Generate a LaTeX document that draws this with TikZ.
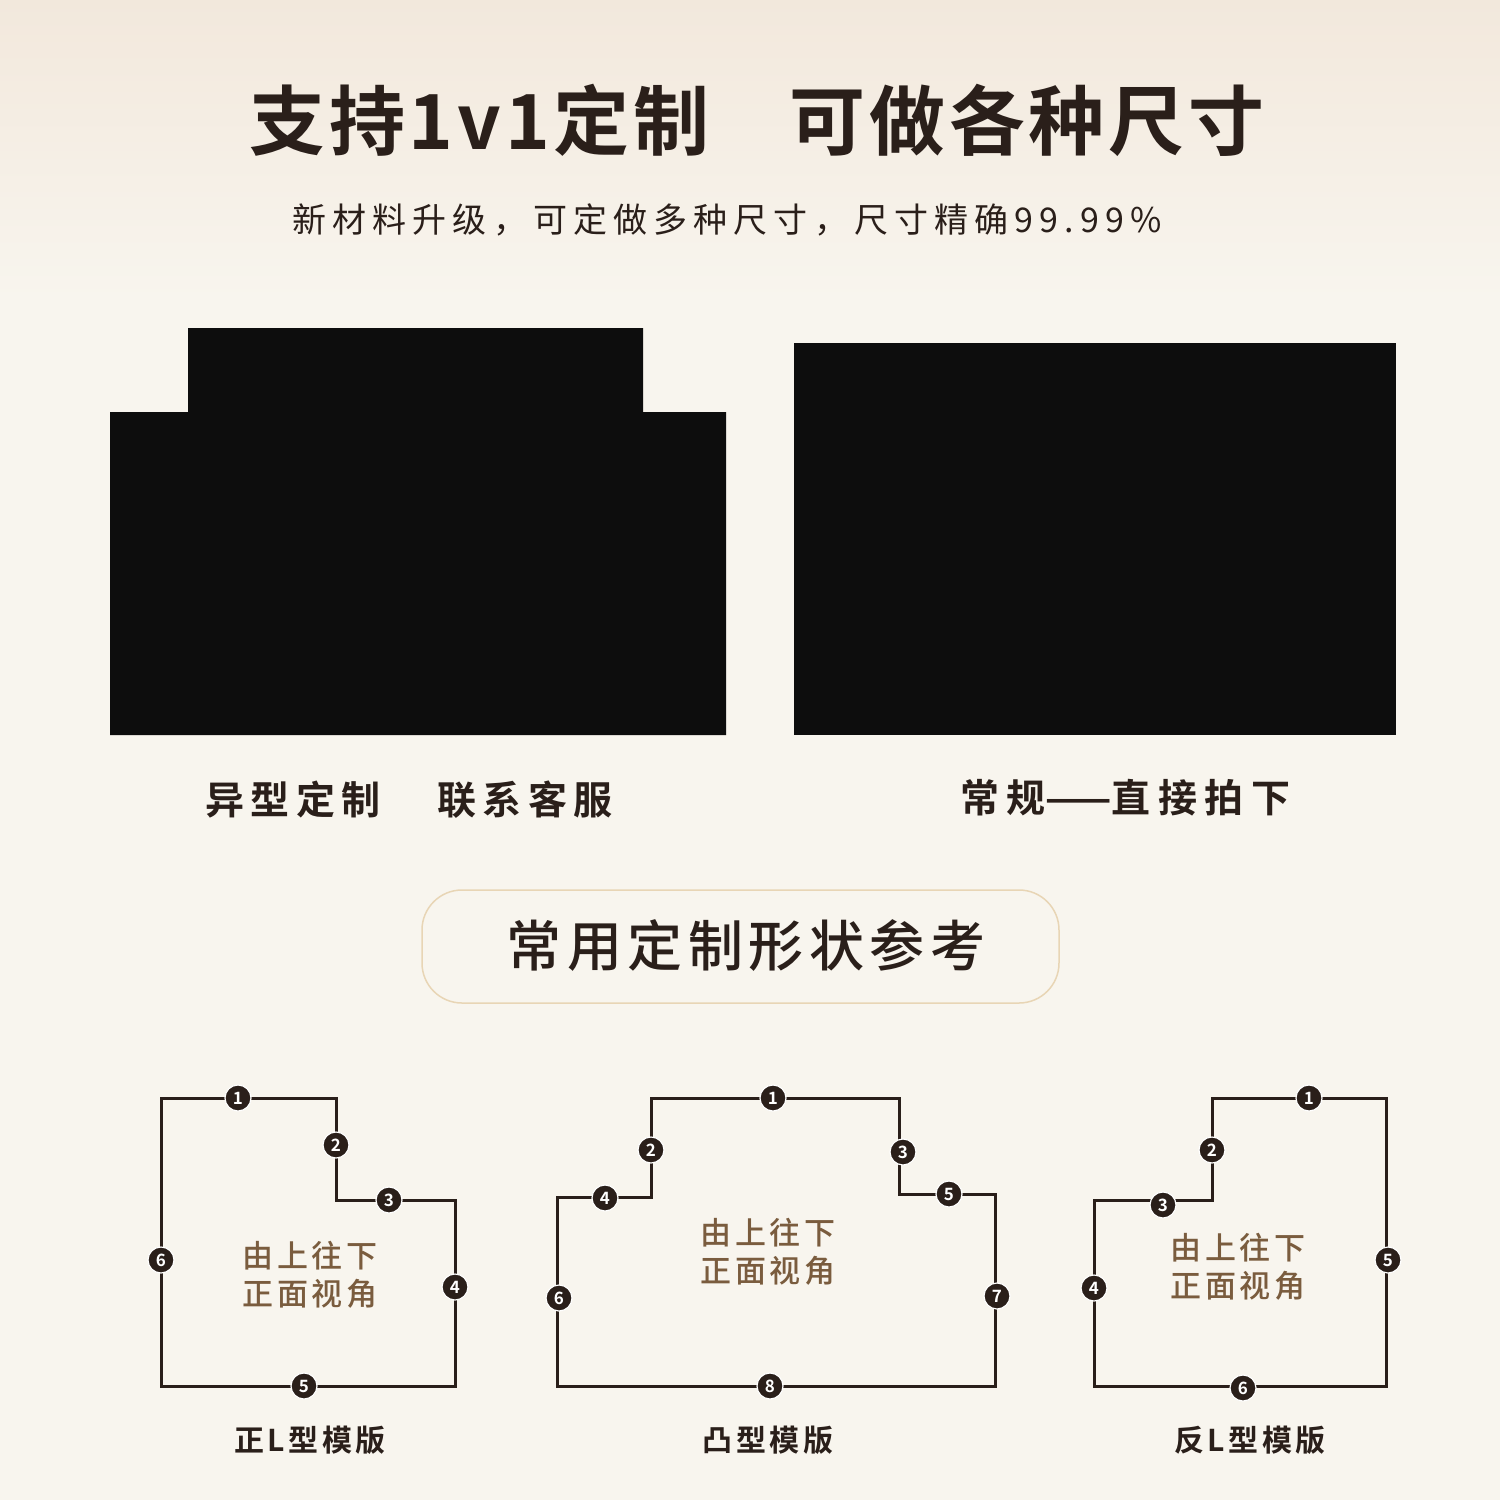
\documentclass[tikz,border=0pt]{standalone}
\usepackage{fontspec}
\newfontfamily\cjksub[LetterSpace=18]{Noto Sans CJK SC}
\newfontfamily\cjktitle[LetterSpace=5]{Noto Sans CJK SC Bold}
\newfontfamily\cjklab[LetterSpace=16]{Noto Sans CJK SC Bold}
\newfontfamily\cjklabb[LetterSpace=19]{Noto Sans CJK SC Bold}
\newfontfamily\cjkhd[LetterSpace=10]{Noto Sans CJK SC Medium}
\newfontfamily\cjkmid[LetterSpace=11]{Noto Sans CJK SC Medium}
\newfontfamily\cjkbot[LetterSpace=12]{Noto Sans CJK SC Bold}
\newfontfamily\cjkb{Noto Sans CJK SC Bold}
\definecolor{bgtop}{HTML}{F2E8DC}
\definecolor{bgbot}{HTML}{F8F5EE}
\definecolor{ink}{HTML}{2A1F1A}
\definecolor{brownt}{HTML}{7A5C3E}
\definecolor{boxb}{HTML}{E8D5B5}
\tikzset{
 outl/.style={draw=ink,line width=3pt},
 mk/.style={circle,fill=ink,draw=white,line width=1.2pt,inner sep=0pt,minimum size=26pt,text=white,font=\cjkb\fontsize{17}{17}\selectfont},
 mid/.style={text=brownt,font=\cjkmid\fontsize{31}{38}\selectfont,align=center},
 lab/.style={text=ink,font=\cjkbot\fontsize{30}{30}\selectfont}
}
\begin{document}
\begin{tikzpicture}[x=1pt,y=-1pt]
\useasboundingbox (0,0) rectangle (1500,1500);
\shade[top color=bgtop,bottom color=bgbot] (0,0) rectangle (1500,300);
\fill[bgbot] (0,299) rectangle (1500,1500);
\node (title) at (757,120) {\cjktitle\fontsize{76}{76}\selectfont\color{ink}支持1v1定制\hspace{80pt}可做各种尺寸};
\node (sub) at (727,220) {\cjksub\fontsize{34}{34}\selectfont\color{ink}新材料升级，可定做多种尺寸，尺寸精确99.99\%};
\fill[black!95] (110,412) -- (188,412) -- (188,328) -- (643,328) -- (643,412) -- (726,412) -- (726,735) -- (110,735) -- cycle;
\fill[black!95] (794,343) rectangle (1396,735);
\node[lab,font=\cjklab\fontsize{39}{39}\selectfont] (l1) at (293,800) {异型定制};
\node[lab,font=\cjklab\fontsize{39}{39}\selectfont] (l2) at (525,800) {联系客服};
\node[lab,font=\cjklabb\fontsize{39}{39}\selectfont] (l3) at (1125,798) {常规{\cjkb\fontsize{39}{39}\selectfont——}直接拍下};
\draw[boxb,line width=1.5pt,rounded corners=40pt] (422,890) rectangle (1059,1003);
\node (hd) at (746,946) {\cjkhd\fontsize{55}{55}\selectfont\color{ink}常用定制形状参考};
% shape 1
\draw[outl] (161,1098) -- (336,1098) -- (336,1200) -- (455,1200) -- (455,1386) -- (161,1386) -- cycle;
\node[mk] (a1) at (238,1098) {1};
\node[mk] (a2) at (336,1145) {2};
\node[mk] (a3) at (389,1200) {3};
\node[mk] (a4) at (455,1287) {4};
\node[mk] (a5) at (304,1386) {5};
\node[mk] (a6) at (161,1260) {6};
\node[mid] (t1) at (310,1275) {由上往下\\正面视角};
\node[lab] (n1) at (310,1440) {正L型模版};
% shape 2
\draw[outl] (557,1197) -- (651,1197) -- (651,1098) -- (899,1098) -- (899,1194) -- (995,1194) -- (995,1386) -- (557,1386) -- cycle;
\node[mk] (b1) at (773,1098) {1};
\node[mk] (b2) at (651,1150) {2};
\node[mk] (b3) at (903,1152) {3};
\node[mk] (b4) at (605,1198) {4};
\node[mk] (b5) at (949,1194) {5};
\node[mk] (b6) at (559,1298) {6};
\node[mk] (b7) at (997,1296) {7};
\node[mk] (b8) at (770,1386) {8};
\node[mid] (t2) at (768,1252) {由上往下\\正面视角};
\node[lab] (n2) at (768,1440) {凸型模版};
% shape 3
\draw[outl] (1094,1200) -- (1212,1200) -- (1212,1098) -- (1386,1098) -- (1386,1386) -- (1094,1386) -- cycle;
\node[mk] (c1) at (1309,1098) {1};
\node[mk] (c2) at (1212,1150) {2};
\node[mk] (c3) at (1163,1205) {3};
\node[mk] (c4) at (1094,1288) {4};
\node[mk] (c5) at (1388,1260) {5};
\node[mk] (c6) at (1243,1388) {6};
\node[mid] (t3) at (1238,1267) {由上往下\\正面视角};
\node[lab] (n3) at (1250,1440) {反L型模版};
\end{tikzpicture}
\end{document}
